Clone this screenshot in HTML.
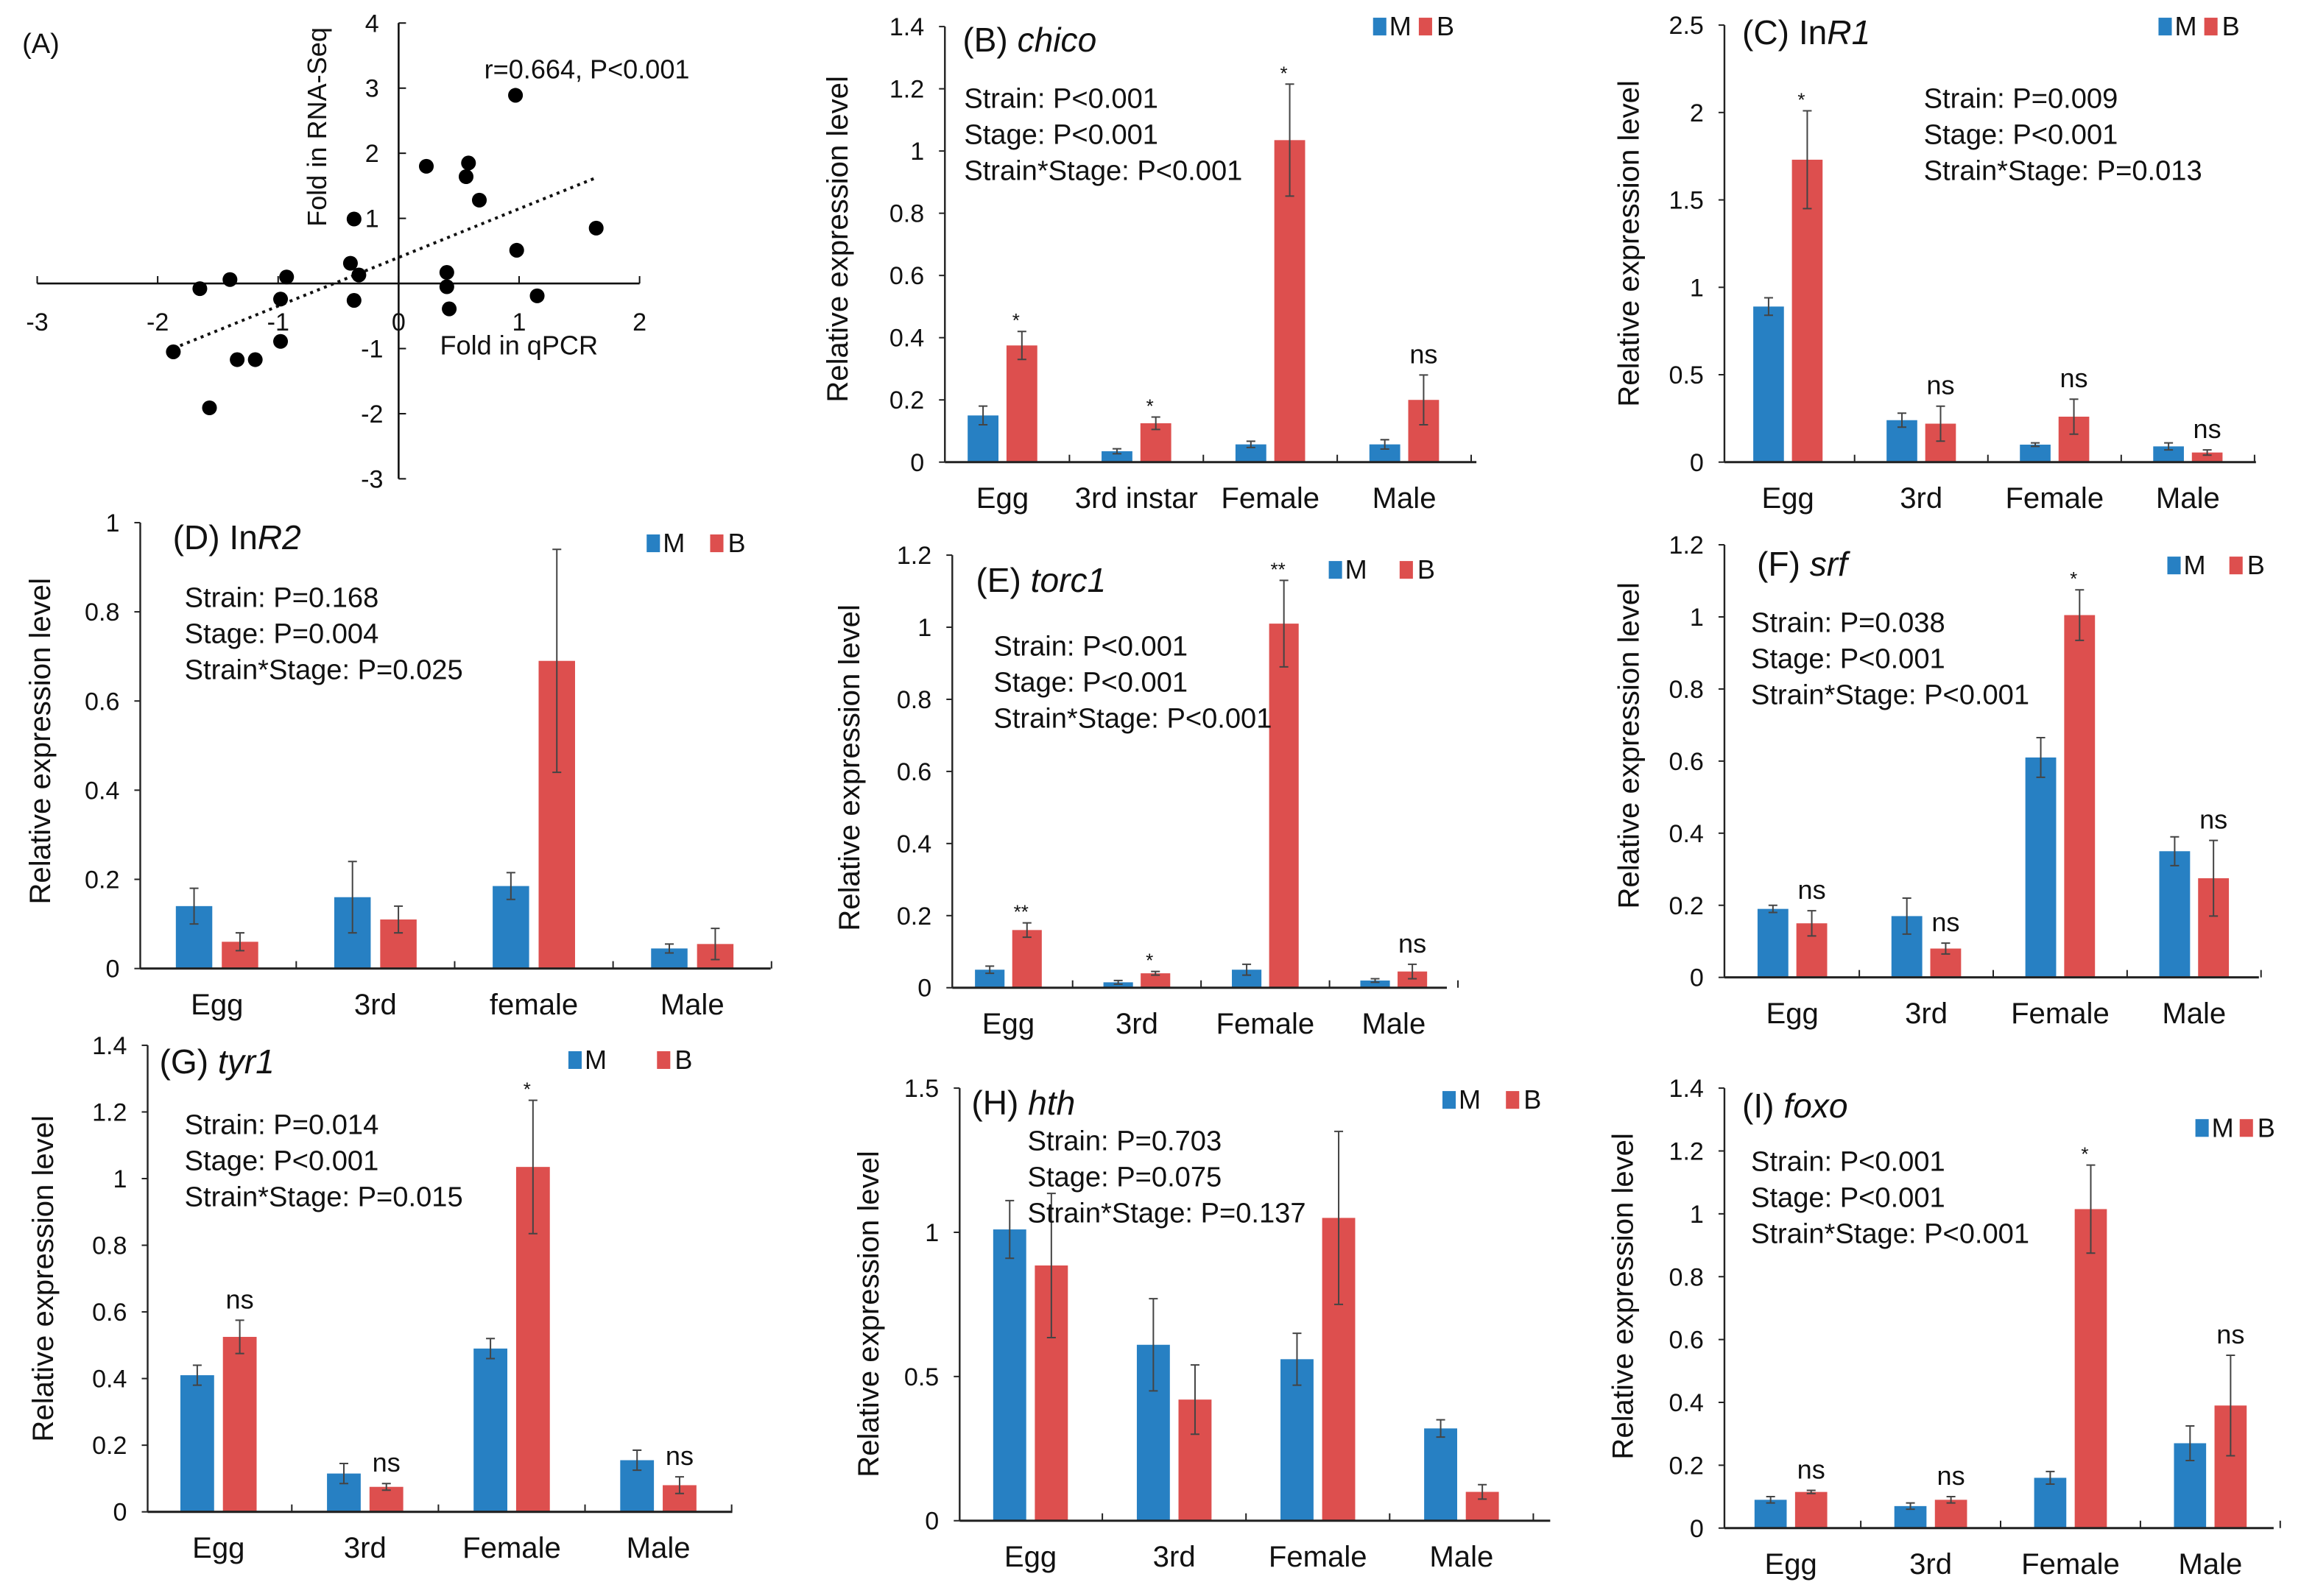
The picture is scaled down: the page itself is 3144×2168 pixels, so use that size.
<!DOCTYPE html>
<html><head><meta charset="utf-8">
<style>
html,body{margin:0;padding:0;background:#fff;}
svg{display:block;font-family:"Liberation Sans",Arial,sans-serif;}
</style></head>
<body>
<svg id="fig" width="3144" height="2168" viewBox="0 0 1568 1081" preserveAspectRatio="none" xmlns="http://www.w3.org/2000/svg"></svg>
<script>
// ---------- Panel A data ----------
const scatterX = [-1.87,-1.65,-1.40,-1.57,-1.34,-1.19,-0.98,-0.93,-0.98,-0.37,-0.40,-0.33,-0.37,0.23,0.58,0.56,0.67,0.40,0.40,0.42,0.97,0.98,1.15,1.64];
const scatterY = [-1.05,-0.08,0.06,-1.91,-1.17,-1.17,-0.24,0.10,-0.89,0.99,0.31,0.13,-0.26,1.80,1.85,1.64,1.28,0.17,-0.05,-0.39,2.89,0.51,-0.19,0.85];
const scatterXTicks = [-3,-2,-1,0,1,2];
const scatterYTicks = [4,3,2,1,-1,-2,-3];
const trendSlope = 0.747, trendIntercept = 0.40, trendFrom = -1.87, trendTo = 1.64;

// ---------- Bar panel data ----------
const catsB = ["Egg","3rd instar","Female","Male"];
const mB = [0.15,0.035,0.057,0.057]; const mErrB = [0.03,0.008,0.01,0.015];
const bB = [0.375,0.125,1.035,0.2]; const bErrB = [0.045,0.02,0.18,0.08];
const sigB = ["*","*","*","ns"];

const catsC = ["Egg","3rd","Female","Male"];
const mC = [0.89,0.24,0.1,0.09]; const mErrC = [0.05,0.04,0.01,0.02];
const bC = [1.73,0.22,0.26,0.055]; const bErrC = [0.28,0.1,0.1,0.015];
const sigC = ["*","ns","ns","ns"];

const catsD = ["Egg","3rd","female","Male"];
const mD = [0.14,0.16,0.185,0.045]; const mErrD = [0.04,0.08,0.03,0.01];
const bD = [0.06,0.11,0.69,0.055]; const bErrD = [0.02,0.03,0.25,0.035];
const sigD = ["","","",""];

const catsE = ["Egg","3rd","Female","Male"];
const mE = [0.05,0.015,0.05,0.02]; const mErrE = [0.01,0.005,0.015,0.005];
const bE = [0.16,0.04,1.01,0.045]; const bErrE = [0.02,0.005,0.12,0.02];
const sigE = ["**","*","**","ns"];

const catsF = ["Egg","3rd","Female","Male"];
const mF = [0.19,0.17,0.61,0.35]; const mErrF = [0.01,0.05,0.055,0.04];
const bF = [0.15,0.08,1.005,0.275]; const bErrF = [0.035,0.015,0.07,0.105];
const sigF = ["ns","ns","*","ns"];

const catsG = ["Egg","3rd","Female","Male"];
const mG = [0.41,0.115,0.49,0.155]; const mErrG = [0.03,0.03,0.03,0.03];
const bG = [0.525,0.075,1.035,0.08]; const bErrG = [0.05,0.01,0.2,0.025];
const sigG = ["ns","ns","*","ns"];

const catsH = ["Egg","3rd","Female","Male"];
const mH = [1.01,0.61,0.56,0.32]; const mErrH = [0.1,0.16,0.09,0.03];
const bH = [0.885,0.42,1.05,0.1]; const bErrH = [0.25,0.12,0.3,0.025];
const sigH = ["","","",""];

const catsI = ["Egg","3rd","Female","Male"];
const mI = [0.09,0.07,0.16,0.27]; const mErrI = [0.01,0.01,0.02,0.055];
const bI = [0.115,0.09,1.015,0.39]; const bErrI = [0.005,0.01,0.14,0.16];
const sigI = ["ns","ns","*","ns"];

const ticksB = [0,0.2,0.4,0.6,0.8,1,1.2,1.4];
const ticksC = [0,0.5,1,1.5,2,2.5];
const ticksD = [0,0.2,0.4,0.6,0.8,1];
const ticksE = [0,0.2,0.4,0.6,0.8,1,1.2];
const ticksH = [0,0.5,1,1.5];

const statsB = ["Strain: P<0.001","Stage: P<0.001","Strain*Stage: P<0.001"];
const statsC = ["Strain: P=0.009","Stage: P<0.001","Strain*Stage: P=0.013"];
const statsD = ["Strain: P=0.168","Stage: P=0.004","Strain*Stage: P=0.025"];
const statsE = ["Strain: P<0.001","Stage: P<0.001","Strain*Stage: P<0.001"];
const statsF = ["Strain: P=0.038","Stage: P<0.001","Strain*Stage: P<0.001"];
const statsG = ["Strain: P=0.014","Stage: P<0.001","Strain*Stage: P=0.015"];
const statsH = ["Strain: P=0.703","Stage: P=0.075","Strain*Stage: P=0.137"];
const statsI = ["Strain: P<0.001","Stage: P<0.001","Strain*Stage: P<0.001"];

const NS = "http://www.w3.org/2000/svg";
const svg = document.getElementById("fig");
const BLUE = "#2780c3", RED = "#dd4f4e";
function mk(tag, attrs, parent){
  const e = document.createElementNS(NS, tag);
  for (const k in attrs) e.setAttribute(k, attrs[k]);
  (parent||svg).appendChild(e);
  return e;
}
function txt(parent, x, y, s, size, anchor, extra){
  const t = mk("text", Object.assign({x:x, y:y, "font-size":size, "text-anchor":anchor||"start", fill:"#111"}, extra||{}), parent);
  t.textContent = s;
  return t;
}

// ---------- Panel A ----------
(function(){
  const g = mk("g", {});
  
  
  const x0 = 270, xu = 81.6, y0 = 192, yu = 44.1;
  const sx = v => x0 + v*xu, sy = v => y0 - v*yu;
  const ax = mk("line", {x1:sx(-3), x2:sx(2), y1:y0, y2:y0, stroke:"#111", "stroke-width":1.3}, g);
  
  
  const ay = mk("line", {x1:x0, x2:x0, y1:sy(4), y2:sy(-3), stroke:"#111", "stroke-width":1.3}, g);
  
  
  scatterXTicks.forEach(v=>{
    mk("line", {x1:sx(v), x2:sx(v), y1:y0, y2:y0-5, stroke:"#111"}, g);
    const t = txt(g, sx(v), y0+32, String(v), 17, "middle");
    
    
  });
  scatterYTicks.forEach(v=>{
    mk("line", {x1:x0, x2:x0+5, y1:sy(v), y2:sy(v), stroke:"#111"}, g);
    const t = txt(g, x0-18, sy(v)+6, String(v), 17, "middle");
    
    
  });
  const tr = mk("line", {x1:sx(trendFrom), y1:sy(trendSlope*trendFrom+trendIntercept), x2:sx(trendTo), y2:sy(trendSlope*trendTo+trendIntercept), stroke:"#111", "stroke-width":2, "stroke-dasharray":"2 3"}, g);
  
  
  scatterX.forEach((v,i)=>{
    const c = mk("circle", {cx:sx(v), cy:sy(scatterY[i]), r:5, fill:"#000"}, g);
    
    
  });
  let t = txt(g, 15, 36, "(A)", 19);
  
  
  t = txt(g, 328, 53, "r=0.664, P<0.001", 18);
  
  
  t = txt(g, 298, 240, "Fold in qPCR", 18);
  
  
  t = txt(g, 0, 0, "Fold in RNA-Seq", 18, "middle", {transform:"translate(221,86) rotate(-90)"});
  
  
})();

// ---------- Bar panels ----------
function barPanel(o){
  const g = mk("g", {});
  
  
  const ymax = o.ticks[o.ticks.length-1];
  const sy = v => o.bottom - v/ymax*(o.bottom-o.top);
  const n = o.cats.length;
  const gw = o.cs;
  const cx = i => o.c0 + gw*i;
  const bw = gw*0.23, off = gw*0.145;
  const ay = mk("line", {x1:o.ax, x2:o.ax, y1:o.top, y2:o.bottom, stroke:"#222", "stroke-width":1.2}, g);
  
  
  o.ticks.forEach(v=>{
    mk("line", {x1:o.ax-4, x2:o.ax, y1:sy(v), y2:sy(v), stroke:"#222"}, g);
    const t = txt(g, o.ax-14, sy(v)+6, String(v), 17, "end");
    
    
  });
  function drawBar(i, v, e, color, dx, nm){
    const x = cx(i)+dx - bw/2;
    const r = mk("rect", {x:x, y:sy(v), width:bw, height:o.bottom-sy(v), fill:color}, g);
    
    
    const xm = cx(i)+dx;
    const eb = mk("path", {d:`M${xm},${sy(v+e)}V${sy(Math.max(0,v-e))}M${xm-3},${sy(v+e)}H${xm+3}M${xm-3},${sy(Math.max(0,v-e))}H${xm+3}`, stroke:"#444", "stroke-width":1, fill:"none"}, g);
    
    
  }
  o.cats.forEach((c,i)=>{
    drawBar(i, o.m[i], o.me[i], BLUE, -off, 'bar-m-'+c.toLowerCase().replace(/\s+/g,'-'));
    drawBar(i, o.b[i], o.be[i], RED, off, 'bar-b-'+c.toLowerCase().replace(/\s+/g,'-'));
    const t = txt(g, cx(i), o.bottom+31, c, 20, "middle");
    
    
    if (o.sig[i]) {
      const big = o.sig[i]==="ns";
      const s = txt(g, cx(i)+off-(big?0:4), sy(o.b[i]+o.be[i]) - (big?8:3), o.sig[i], big?18:13, "middle");
      
      
    }
  });
  const ax = mk("line", {x1:o.ax, x2:o.right, y1:o.bottom, y2:o.bottom, stroke:"#222", "stroke-width":1.5}, g);
  
  
  for (let i=0;i<n;i++) { const xx = o.c0+gw*(i+0.5); mk("line", {x1:xx, x2:xx, y1:o.bottom, y2:o.bottom-5, stroke:"#222"}, g); }
  const tt = mk("text", {x:o.tx, y:o.ty, "font-size":23, fill:"#111"}, g);
  
  
  o.title.forEach(p=>{
    const s = mk("tspan", p[1]?{"font-style":"italic"}:{}, tt);
    s.textContent = p[0];
  });
  o.stats.forEach((s,k)=>{
    const t = txt(g, o.sx, o.sy + k*24.5, s, 19);
    
    
  });
  const lm = mk("rect", {x:o.lx, y:o.ly-12, width:9, height:12, fill:BLUE}, g);
  
  
  let t = txt(g, o.lx+11, o.ly, "M", 18);
  
  
  const lb = mk("rect", {x:o.lx+o.lgap, y:o.ly-12, width:9, height:12, fill:RED}, g);
  
  
  t = txt(g, o.lx+o.lgap+12, o.ly, "B", 18);
  
  
  t = txt(g, 0, 0, "Relative expression level", 20, "middle", {transform:`translate(${o.ylx},${o.yly}) rotate(-90)`});
  
  
}

barPanel({name:"panel-b-chico", ax:640, bottom:313, top:18, right:1000, c0:679, cs:90.7, ticks:ticksB, cats:catsB, m:mB, me:mErrB, b:bB, be:bErrB, sig:sigB,
  title:[["(B) ",0],["chico",1]], tx:652, ty:35, stats:statsB, sx:653, sy:73, lx:930, ly:24, lgap:31, ylx:574, yly:162});
barPanel({name:"panel-c-inr1", ax:1168, bottom:313, top:17, right:1528, c0:1211, cs:90.3, ticks:ticksC, cats:catsC, m:mC, me:mErrC, b:bC, be:bErrC, sig:sigC,
  title:[["(C) In",0],["R1",1]], tx:1180, ty:30, stats:statsC, sx:1303, sy:73, lx:1462, ly:24, lgap:31, ylx:1110, yly:165});
barPanel({name:"panel-d-inr2", ax:95, bottom:656, top:354, right:522, c0:147, cs:107.3, ticks:ticksD, cats:catsD, m:mD, me:mErrD, b:bD, be:bErrD, sig:sigD,
  title:[["(D) In",0],["R2",1]], tx:117, ty:372, stats:statsD, sx:125, sy:411, lx:438, ly:374, lgap:43, ylx:34, yly:502});
barPanel({name:"panel-e-torc1", ax:645, bottom:669, top:376, right:980, c0:683, cs:87, ticks:ticksE, cats:catsE, m:mE, me:mErrE, b:bE, be:bErrE, sig:sigE,
  title:[["(E) ",0],["torc1",1]], tx:661, ty:401, stats:statsE, sx:673, sy:444, lx:900, ly:392, lgap:48, ylx:582, yly:520});
barPanel({name:"panel-f-srf", ax:1168, bottom:662, top:369, right:1530, c0:1214, cs:90.7, ticks:ticksE, cats:catsF, m:mF, me:mErrF, b:bF, be:bErrF, sig:sigF,
  title:[["(F) ",0],["srf",1]], tx:1190, ty:390, stats:statsF, sx:1186, sy:428, lx:1468, ly:389, lgap:42, ylx:1110, yly:505});
barPanel({name:"panel-g-tyr1", ax:100, bottom:1024, top:708, right:496, c0:148, cs:99.3, ticks:ticksB, cats:catsG, m:mG, me:mErrG, b:bG, be:bErrG, sig:sigG,
  title:[["(G) ",0],["tyr1",1]], tx:108, ty:727, stats:statsG, sx:125, sy:768, lx:385, ly:724, lgap:60, ylx:36, yly:866});
barPanel({name:"panel-h-hth", ax:650, bottom:1030, top:737, right:1050, c0:698, cs:97.3, ticks:ticksH, cats:catsH, m:mH, me:mErrH, b:bH, be:bErrH, sig:sigH,
  title:[["(H) ",0],["hth",1]], tx:658, ty:755, stats:statsH, sx:696, sy:779, lx:977, ly:751, lgap:43, ylx:595, yly:890});
barPanel({name:"panel-i-foxo", ax:1168, bottom:1035, top:737, right:1540, c0:1213, cs:94.7, ticks:ticksB, cats:catsI, m:mI, me:mErrI, b:bI, be:bErrI, sig:sigI,
  title:[["(I) ",0],["foxo",1]], tx:1180, ty:757, stats:statsI, sx:1186, sy:793, lx:1487, ly:770, lgap:30, ylx:1106, yly:878});
</script>
</body></html>
